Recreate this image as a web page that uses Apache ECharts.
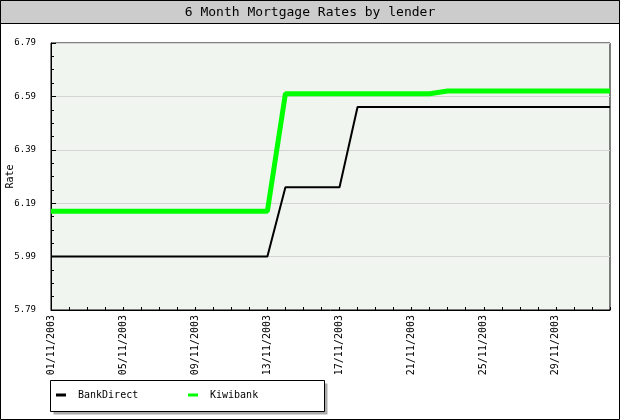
<!DOCTYPE html>
<html><head><meta charset="utf-8">
<script src="https://cdn.jsdelivr.net/npm/echarts@6/dist/echarts.min.js"></script>
<style>html,body{margin:0;padding:0;background:#fff}#c{width:620px;height:420px}</style>
</head><body><div id="c"></div>
<script>
const categories = ['01/11/2003','02/11/2003','03/11/2003','04/11/2003','05/11/2003','06/11/2003','07/11/2003','08/11/2003','09/11/2003','10/11/2003','11/11/2003','12/11/2003','13/11/2003','14/11/2003','15/11/2003','16/11/2003','17/11/2003','18/11/2003','19/11/2003','20/11/2003','21/11/2003','22/11/2003','23/11/2003','24/11/2003','25/11/2003','26/11/2003','27/11/2003','28/11/2003','29/11/2003','30/11/2003','01/12/2003','02/12/2003'];
const bankDirect = [5.99,5.99,5.99,5.99,5.99,5.99,5.99,5.99,5.99,5.99,5.99,5.99,5.99,6.25,6.25,6.25,6.25,6.55,6.55,6.55,6.55,6.55,6.55,6.55,6.55,6.55,6.55,6.55,6.55,6.55,6.55,6.55];
const kiwibank = [6.16,6.16,6.16,6.16,6.16,6.16,6.16,6.16,6.16,6.16,6.16,6.16,6.16,6.60,6.60,6.60,6.60,6.60,6.60,6.60,6.60,6.60,6.61,6.61,6.61,6.61,6.61,6.61,6.61,6.61,6.61,6.61];
const seriesNames = ['BankDirect','Kiwibank'];
const yMin = 5.79, yMax = 6.79, yStep = 0.2;

const mono = 'DejaVu Sans Mono';
const chart = echarts.init(document.getElementById('c'), null, {renderer:'canvas'});
chart.setOption({
  animation:false,
  backgroundColor:'#ffffff',
  graphic:[
    {type:'rect', shape:{x:0.5,y:0.5,width:619,height:419}, style:{fill:'#ffffff',stroke:'#000',lineWidth:1}, z:-10},
    {type:'rect', shape:{x:0.5,y:0.5,width:619,height:23}, style:{fill:'#cccccc',stroke:'#000',lineWidth:1}, z:-9},
    {type:'text', x:310, y:13, style:{text:'6 Month Mortgage Rates by lender', font:'13px "DejaVu Sans Mono"', fill:'#000', align:'center', verticalAlign:'middle'}, z:5},
    {type:'rect', shape:{x:53.5,y:383.5,width:274,height:31}, style:{fill:'#aaaaaa'}, z:-8},
    {type:'rect', shape:{x:50.5,y:380.5,width:274,height:31}, style:{fill:'#ffffff',stroke:'#000',lineWidth:1}, z:-7}
  ],
  grid:{left:51, right:10, top:43, bottom:110, containLabel:false, outerBoundsMode:'none', show:true, backgroundColor:'#f0f5ef', borderColor:'#000', borderWidth:1},
  legend:[
    {data:[seriesNames[0]], left:56, top:390, padding:0, itemWidth:10, itemHeight:3, icon:'rect', textStyle:{fontFamily:mono, fontSize:10, color:'#000', padding:[0,0,0,7]}},
    {data:[seriesNames[1]], left:188, top:390, padding:0, itemWidth:10, itemHeight:3, icon:'rect', textStyle:{fontFamily:mono, fontSize:10, color:'#000', padding:[0,0,0,7]}}
  ],
  xAxis:{
    type:'category', data:categories, boundaryGap:false,
    axisLine:{show:true, lineStyle:{color:'#000'}},
    axisTick:{show:true, inside:true, length:3, interval:0, lineStyle:{color:'#000'}},
    axisLabel:{rotate:90, interval:3, fontFamily:mono, fontSize:10, color:'#000', margin:5},
    splitLine:{show:false}
  },
  yAxis:{
    type:'value', min:yMin, max:yMax, interval:yStep,
    name:'Rate', nameLocation:'middle', nameGap:36, nameRotate:90, nameMoveOverlap:false,
    nameTextStyle:{fontFamily:mono, fontSize:10, color:'#000'},
    axisLine:{show:true, lineStyle:{color:'#000'}},
    axisTick:{show:true, inside:true, length:5, lineStyle:{color:'#000'}},
    minorTick:{show:true, splitNumber:4, length:3, lineStyle:{color:'#000'}},
    axisLabel:{fontFamily:mono, fontSize:9, color:'#000', margin:15, formatter:v=>v.toFixed(2)},
    splitLine:{show:true, lineStyle:{color:'#d4d4d4', width:1}}
  },
  series:[
    {name:seriesNames[0], type:'line', data:bankDirect, symbol:'none', lineStyle:{color:'#000000', width:2}, itemStyle:{color:'#000000'}, z:3},
    {name:seriesNames[1], type:'line', data:kiwibank, symbol:'none', lineStyle:{color:'#00ff00', width:5}, itemStyle:{color:'#00ff00'}, z:2}
  ]
});
</script></body></html>
